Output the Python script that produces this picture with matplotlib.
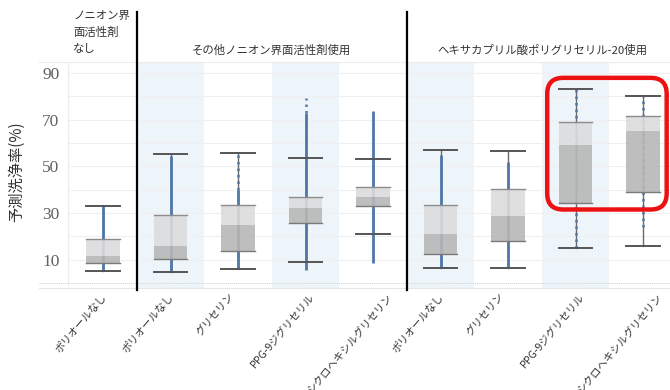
import matplotlib
matplotlib.use("Agg")
import matplotlib.pyplot as plt
from matplotlib.patches import FancyBboxPatch, Rectangle
from matplotlib.transforms import blended_transform_factory, IdentityTransform

plt.rcParams['font.family'] = ['Noto Sans CJK JP', 'DejaVu Sans']

# ---------------- data ----------------
categories = ["ポリオールなし", "ポリオールなし", "グリセリン", "PPG-9ジグリセリル",
              "シクロヘキシルグリセリン", "ポリオールなし", "グリセリン",
              "PPG-9ジグリセリル", "シクロヘキシルグリセリン"]
group_labels = ["ノニオン界\n面活性剤\nなし", "その他ノニオン界面活性剤使用",
                "ヘキサカプリル酸ポリグリセリル-20使用"]
group_first = [0, 1, 5]
group_last = [0, 4, 8]

whisker_lo = [5.2, 4.8, 5.8, 8.8, 21.2, 6.2, 6.2, 15.1, 15.9]
q1 = [8.4, 10.1, 13.8, 25.8, 33.1, 12.2, 17.8, 34.5, 38.8]
median = [11.6, 15.8, 24.8, 32.0, 37.0, 20.9, 28.7, 59.1, 65.3]
q3 = [18.7, 29.2, 33.3, 37.0, 41.2, 33.5, 40.1, 69.1, 71.7]
whisker_hi = [33.1, 55.3, 55.7, 53.7, 53.0, 57.0, 56.7, 83.0, 80.3]

points_min = [5.2, 4.8, 5.8, 5.5, 8.4, 6.2, 6.2, 15.1, 24.0]
points_dense_max = [33.1, 54.4, 40.0, 73.0, 73.7, 54.8, 52.0, 15.1, 24.0]
points_max = [33.1, 54.4, 55.7, 79.2, 73.7, 54.8, 52.0, 83.0, 80.3]

shaded = [1, 3, 5, 7]
highlight = [7, 8]
ytick_vals = [10, 30, 50, 70, 90]
grid_vals = [10, 20, 30, 40, 50, 60, 70, 80, 90]
separators = [0.5, 4.5]

# ---------------- figure ----------------
fig = plt.figure(figsize=(6.7, 3.9), dpi=100)
ax = fig.add_axes([69.3 / 670, 105 / 390, 607.5 / 670, 223 / 390])
ax.set_xlim(-0.5, 8.5)
ax.set_ylim(-0.9, 94.8)
for s in ax.spines.values():
    s.set_visible(False)

xtrans = blended_transform_factory(ax.transData, ax.transAxes)

# column shading
for i in shaded:
    ax.add_patch(Rectangle((i - 0.5, -0.02), 1.0, 1.02, transform=xtrans,
                           facecolor='#eef5fa', edgecolor='none', zorder=0,
                           clip_on=False))

# grid
for g in grid_vals:
    ax.axhline(g, color='#efefef', lw=0.8, zorder=0.5)
ax.plot([-0.05, 1.0], [1.0, 1.0], transform=ax.transAxes, color='#ececec',
        lw=0.8, clip_on=False, zorder=0.5)
ax.plot([-0.05, 1.0], [0.008, 0.008], transform=ax.transAxes, color='#cfcfcf',
        lw=0.7, ls=(0, (1, 1)), clip_on=False, zorder=0.5)
ax.plot([-0.05, 1.0], [-0.012, -0.012], transform=ax.transAxes, color='#e6e6e6',
        lw=0.8, clip_on=False, zorder=0.5)
ax.plot([-0.002, -0.002], [0, 1], transform=ax.transAxes, color='#ececec',
        lw=0.8, clip_on=False, zorder=0.5)

bw = 0.5
for i in range(len(categories)):
    # whisker line
    ax.plot([i, i], [whisker_lo[i], whisker_hi[i]], color='#6a6a6a', lw=1.0, zorder=1)
    # points strip
    ax.plot([i, i], [points_min[i], points_dense_max[i]], color='#4f77a8', lw=2.0,
            zorder=2, solid_capstyle='butt')
    if points_max[i] > points_dense_max[i]:
        ax.plot([i, i], [points_dense_max[i], points_max[i]], color='#4f77a8', lw=1.8,
                ls=(0, (1.0, 1.6)), zorder=2)
    # box
    ax.add_patch(Rectangle((i - bw / 2, q1[i]), bw, median[i] - q1[i],
                           facecolor='#b7b7b7', edgecolor='none', alpha=0.9, zorder=3))
    ax.add_patch(Rectangle((i - bw / 2, median[i]), bw, q3[i] - median[i],
                           facecolor='#dcdcdc', edgecolor='none', alpha=0.9, zorder=3))
    ax.plot([i - bw / 2, i + bw / 2], [q3[i], q3[i]], color='#8c8c8c', lw=1.0, zorder=4)
    ax.plot([i - bw / 2, i + bw / 2], [q1[i], q1[i]], color='#7a7a7a', lw=1.0, zorder=4)
    # caps
    for v in (whisker_lo[i], whisker_hi[i]):
        ax.plot([i - bw / 2, i + bw / 2], [v, v], color='#555555', lw=1.4, zorder=4)

# separators
for sx in separators:
    ax.plot([sx, sx], [-0.022, 1.224], transform=xtrans, color='black', lw=1.6,
            clip_on=False, zorder=6)

# y ticks
ax.set_yticks(ytick_vals)
ax.set_yticklabels([str(v) for v in ytick_vals], family=['Liberation Serif'],
                   fontsize=12.5, color='#606060')
ax.tick_params(axis='y', length=0, pad=7)
ax.set_xticks([])

# x labels
for i, lab in enumerate(categories):
    ax.text(i - 0.33, -0.03, lab, transform=xtrans, rotation=50, ha='center',
            va='top', fontsize=7.6, color='#333333')

# group headers
fig.text(73 / 670, 1 - 11 / 390, group_labels[0], ha='left', va='top', fontsize=8.2,
         color='#333333', linespacing=1.65)
for k in (1, 2):
    xc = (group_first[k] + group_last[k]) / 2
    ax.text(xc, 1.0 + 12 / 223, group_labels[k], transform=xtrans, ha='center',
            va='center', fontsize=8.2, color='#333333')

# y label
fig.text(17 / 670, 1 - 172 / 390, '予測洗浄率(%)', rotation=90, ha='center',
         va='center', fontsize=11, color='#333333')

# highlight rounded rectangle (display coords)
x0d, y0d = ax.transData.transform((highlight[0] - 0.42, 31.5))
x1d, y1d = ax.transData.transform((highlight[-1] + 0.35, 88.0))
fig.patches.append(FancyBboxPatch((x0d, y0d), x1d - x0d, y1d - y0d,
                                  boxstyle='round,pad=0,rounding_size=16',
                                  transform=IdentityTransform(), facecolor='none',
                                  edgecolor='#ee1111', lw=3.2, zorder=10))

fig.savefig('out.png', dpi=100)
